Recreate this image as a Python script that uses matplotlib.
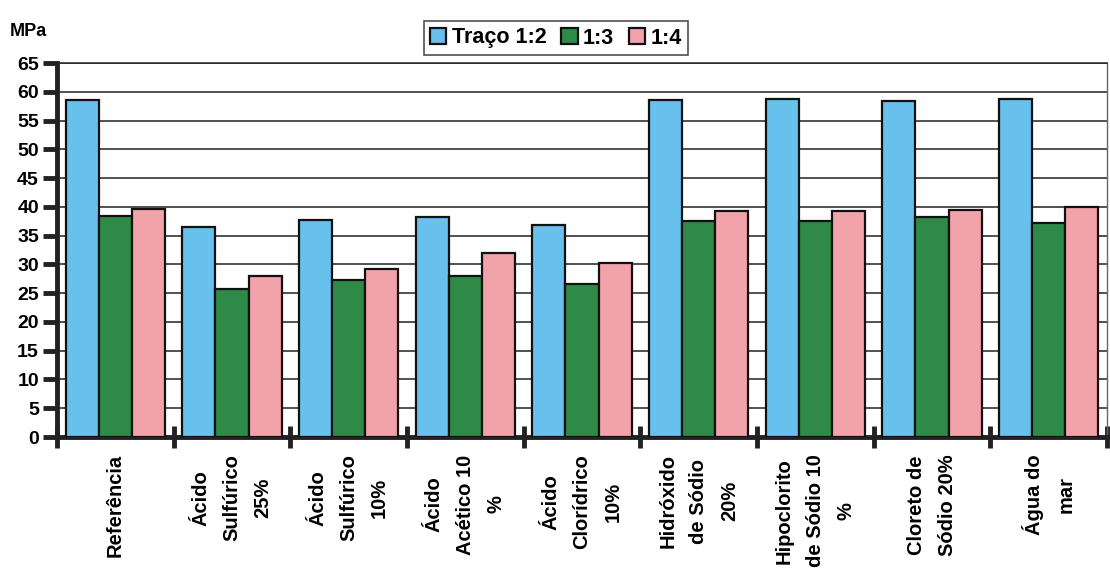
import matplotlib
matplotlib.use("Agg")
import matplotlib.pyplot as plt
import numpy as np

plt.rcParams['font.family'] = ['Liberation Sans', 'DejaVu Sans']
plt.rcParams['font.weight'] = 'bold'

categories = [
    "Referência",
    "Ácido\nSulfúrico\n25%",
    "Ácido\nSulfúrico\n10%",
    "Ácido\nAcético 10\n%",
    "Ácido\nClorídrico\n10%",
    "Hidróxido\nde Sódio\n20%",
    "Hipoclorito\nde Sódio 10\n%",
    "Cloreto de\nSódio 20%",
    "Água do\nmar",
]
series_names = ["Traço 1:2", "1:3", "1:4"]
traco_1_2 = [58.5, 36.5, 37.7, 38.3, 36.9, 58.5, 58.7, 58.4, 58.7]
traco_1_3 = [38.4, 25.8, 27.3, 28.0, 26.6, 37.5, 37.6, 38.3, 37.2]
traco_1_4 = [39.7, 28.0, 29.2, 31.9, 30.3, 39.2, 39.2, 39.5, 40.0]
yticks = list(range(0, 70, 5))

colors = ["#68c0ec", "#2f8a47", "#f2a3aa"]
series = [traco_1_2, traco_1_3, traco_1_4]

fig = plt.figure(figsize=(11.10, 5.81), dpi=100)
ax = fig.add_axes([57 / 1110, 1 - 437 / 581, 1050 / 1110, 374 / 581])

x = np.arange(len(categories))
width = 0.283
handles = []
for i, (vals, col, name) in enumerate(zip(series, colors, series_names)):
    b = ax.bar(x + (i - 1) * width, vals, width, color=col, edgecolor="#111111",
               linewidth=1.6, label=name, zorder=3)
    handles.append(b)

ax.set_xlim(-0.5, len(categories) - 0.5)
ax.set_ylim(0, 65)
ax.set_yticks(yticks)
ax.set_yticklabels([str(t) for t in yticks], fontsize=14, fontweight='bold')
ax.yaxis.grid(True, color="#222222", linewidth=1.1, zorder=0)
ax.set_axisbelow(True)

# category boundaries carry the x ticks; labels sit at the centers
ax.set_xticks(np.arange(-0.5, len(categories), 1.0))
ax.set_xticklabels([])
ax.tick_params(axis='x', direction='inout', length=16, width=3.5, color="#222222")
ax.tick_params(axis='y', direction='out', length=10, width=3.5, color="#222222", pad=3)

for xi, lab in zip(x, categories):
    ax.text(xi, -3.0, lab, rotation=90, ha='center', va='top', fontsize=14.5,
            fontweight='bold', multialignment='center', linespacing=1.8,
            transform=ax.transData, clip_on=False)

for side in ['left', 'bottom']:
    ax.spines[side].set_linewidth(3.5)
    ax.spines[side].set_color("#222222")
ax.spines['right'].set_linewidth(1.0)
ax.spines['right'].set_color("#666666")
ax.spines['top'].set_linewidth(1.1)
ax.spines['top'].set_color("#222222")

fig.text(10 / 1110, 1 - 32 / 581, "MPa", fontsize=13, fontweight='bold', va='center')

leg = fig.legend(handles=handles, loc='center', bbox_to_anchor=(556 / 1110, 1 - 38 / 581),
                 ncol=3, frameon=True, handlelength=0.75, handleheight=0.75,
                 handletextpad=0.25, columnspacing=0.7, borderpad=0.3,
                 prop={'weight': 'bold', 'size': 15.5})
leg.get_frame().set_edgecolor("#222222")
leg.get_frame().set_linewidth(1.2)
leg.get_frame().set_boxstyle('square', pad=0.0)

fig.savefig("out.png", dpi=100)
